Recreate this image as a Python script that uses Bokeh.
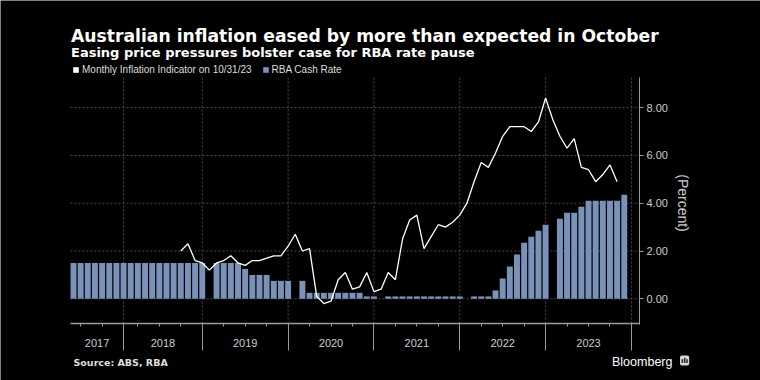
import math
import pandas as pd
from bokeh.plotting import figure
from bokeh.models import (Range1d, LinearAxis, FixedTicker, Label, Legend, LegendItem,
                          NumeralTickFormatter)
from bokeh.embed import file_html
from bokeh.resources import INLINE

# ---------------- data ----------------
def months(start, end):
    return [str(p) for p in pd.period_range(start, end, freq="M")]

# RBA cash rate (decision months; no January meetings)
rba_months = (months("2017-05", "2017-12") + months("2018-02", "2018-12") +
              months("2019-02", "2019-12") + months("2020-02", "2020-12") +
              months("2021-02", "2021-12") + months("2022-02", "2022-12") +
              months("2023-02", "2023-11"))
rba_2017 = [1.50, 1.50, 1.50, 1.50, 1.50, 1.50, 1.50, 1.50]
rba_2018 = [1.50, 1.50, 1.50, 1.50, 1.50, 1.50, 1.50, 1.50, 1.50, 1.50, 1.50]
rba_2019 = [1.50, 1.50, 1.50, 1.50, 1.25, 1.00, 1.00, 1.00, 0.75, 0.75, 0.75]
rba_2020 = [0.75, 0.25, 0.25, 0.25, 0.25, 0.25, 0.25, 0.25, 0.25, 0.10, 0.10]
rba_2021 = [0.10, 0.10, 0.10, 0.10, 0.10, 0.10, 0.10, 0.10, 0.10, 0.10, 0.10]
rba_2022 = [0.10, 0.10, 0.10, 0.35, 0.85, 1.35, 1.85, 2.35, 2.60, 2.85, 3.10]
rba_2023 = [3.35, 3.60, 3.60, 3.85, 4.10, 4.10, 4.10, 4.10, 4.10, 4.35]
rba_rate = rba_2017 + rba_2018 + rba_2019 + rba_2020 + rba_2021 + rba_2022 + rba_2023

# Monthly CPI indicator, annual % change
cpi_months = months("2018-09", "2023-10")
cpi_2018 = [2.0, 2.3, 1.6, 1.5]
cpi_2019 = [1.2, 1.5, 1.6, 1.8, 1.5, 1.4, 1.6, 1.6, 1.7, 1.8, 1.8, 2.2]
cpi_2020 = [2.7, 2.0, 2.1, 0.1, -0.2, -0.1, 0.8, 1.1, 0.4, 0.5, 1.1, 0.3]
cpi_2021 = [0.4, 1.1, 0.8, 2.5, 3.3, 3.5, 2.1, 2.6, 3.1, 3.0, 3.2, 3.5]
cpi_2022 = [4.0, 4.9, 5.7, 5.5, 6.1, 6.8, 7.2, 7.2, 7.2, 7.0, 7.4, 8.4]
cpi_2023 = [7.5, 6.8, 6.3, 6.7, 5.5, 5.4, 4.9, 5.2, 5.6, 4.9]
cpi_values = cpi_2018 + cpi_2019 + cpi_2020 + cpi_2021 + cpi_2022 + cpi_2023

year_labels = ["2017", "2018", "2019", "2020", "2021", "2022", "2023"]
y_ticks = [0, 2, 4, 6, 8]

title_text = "Australian inflation eased by more than expected in October"
subtitle_text = "Easing price pressures bolster case for RBA rate pause"
source_text = "Source: ABS, RBA"
legend_cpi = "Monthly Inflation Indicator on 10/31/23"
legend_rba = "RBA Cash Rate"

# ---------------- axis slots (union of observation dates) ----------------
axis_months = sorted(set(rba_months) | set(cpi_months) | {"2023-12"})
slot = {m: i for i, m in enumerate(axis_months)}
rba_x = [slot[m] for m in rba_months]
cpi_x = [slot[m] for m in cpi_months]
separators = [slot[m] for m in axis_months if m.endswith("-12")]
quarters = [slot[m] for m in axis_months if m[-2:] in ("03", "06", "09")]

# ---------------- layout (the frame covers the whole canvas) ----------------
W, H = 760, 380
PX_X, ORIGIN_X = 7.153, 73.0     # px per slot, page x of slot 0
PX_Y, ORIGIN_Y = 23.9, 298.3     # px per unit, page y of 0.00
def dx(px): return (px - ORIGIN_X) / PX_X
def dy(py): return (ORIGIN_Y - py) / PX_Y

X0, X1 = dx(70), dx(639)          # plot area left / right axis
Y_TOP, Y_AX = dy(77), dy(323)      # plot area top / bottom axis line

bounds = [X0] + separators
label_centers = [(bounds[i] + bounds[i + 1]) / 2 for i in range(len(year_labels))]

BAR = "#7a92ba"
GRID = "#4a4a4a"
AX = "#9a9a9a"
TXT = "#cccccc"
NAN = float("nan")

p = figure(width=W, height=H, x_range=Range1d(dx(0), dx(W)), y_range=Range1d(dy(H), dy(0)),
           output_backend="svg", toolbar_location=None,
           x_axis_location=None, y_axis_location=None,
           background_fill_color="black", border_fill_color="black",
           outline_line_color=None,
           min_border_left=0, min_border_right=0, min_border_top=0, min_border_bottom=0)
p.grid.visible = False

# dotted grid, limited to the plot area
p.segment(x0=separators, y0=[Y_AX] * len(separators), x1=separators, y1=[Y_TOP] * len(separators),
          line_color=GRID, line_dash="2 2", line_width=1)
p.segment(x0=[X0] * len(y_ticks), y0=y_ticks, x1=[X1] * len(y_ticks), y1=y_ticks,
          line_color=GRID, line_dash="2 2", line_width=1)

# data
r_bars = p.vbar(x=rba_x, top=rba_rate, bottom=0, width=0.83, fill_color=BAR, line_color=None)
p.line(cpi_x, cpi_values, line_color="white", line_width=1.3)

# bottom axis: line, quarter ticks, long year separators
xaxis_ticks = LinearAxis(fixed_location=Y_AX, bounds=(X0, X1),
                         ticker=FixedTicker(ticks=quarters, minor_ticks=separators),
                         major_label_overrides={q: "" for q in quarters},
                         axis_line_color=AX, axis_line_width=1.5,
                         major_tick_line_color=AX, major_tick_out=3, major_tick_in=0,
                         minor_tick_line_color=AX, minor_tick_out=27, minor_tick_in=0)
p.add_layout(xaxis_ticks, "below")
# bottom axis: year labels centred between separators
xaxis_labels = LinearAxis(fixed_location=Y_AX, bounds=(X0, X1),
                          ticker=FixedTicker(ticks=label_centers, minor_ticks=[]),
                          major_label_overrides={c: t for c, t in zip(label_centers, year_labels)},
                          axis_line_color=None, major_tick_line_color=None,
                          minor_tick_line_color=None,
                          major_tick_out=0, major_tick_in=0,
                          major_label_text_font="Liberation Sans",
                          major_label_text_font_size="11px",
                          major_label_text_color=TXT, major_label_standoff=15)
p.add_layout(xaxis_labels, "below")

# right value axis
yaxis = LinearAxis(fixed_location=X1, bounds=(Y_AX - 0.05, Y_TOP),
                   ticker=FixedTicker(ticks=y_ticks, minor_ticks=[]),
                   formatter=NumeralTickFormatter(format="0.00"),
                   axis_line_color=AX, axis_line_width=1,
                   major_tick_line_color=AX, major_tick_out=4, major_tick_in=0,
                   minor_tick_line_color=None,
                   major_label_text_font="Liberation Sans",
                   major_label_text_font_size="11px",
                   major_label_text_color=TXT, major_label_standoff=3)
p.add_layout(yaxis, "right")

# legend (square swatches) above the plot area; location = bottom-left corner
r_cpi = p.quad(left=[NAN], right=[NAN], top=[NAN], bottom=[NAN],
               fill_color="white", line_color=None)
legend = Legend(items=[LegendItem(label=legend_cpi, renderers=[r_cpi]),
                       LegendItem(label=legend_rba, renderers=[r_bars])],
                orientation="horizontal", location=(72, H - 75),
                glyph_width=7, glyph_height=7, label_standoff=3, spacing=10,
                padding=2, margin=0, label_height=10,
                label_text_font="Liberation Sans", label_text_font_size="10px",
                label_text_color="#dddddd",
                background_fill_alpha=0, border_line_color=None)
p.add_layout(legend, "center")

# texts (screen units; frame == canvas, y measured from the bottom)
def lab(text, x, y_page, **kw):
    p.add_layout(Label(x=x, y=H - y_page, x_units="screen", y_units="screen", text=text, **kw))

lab(title_text, 70.5, 35, text_font="DejaVu Sans", text_font_style="bold",
    text_font_size="17.2px", text_color="white", text_baseline="alphabetic")
lab(subtitle_text, 70.5, 51.7, text_font="DejaVu Sans", text_font_style="bold",
    text_font_size="13px", text_color="white", text_baseline="alphabetic")
lab(source_text, 73, 361.5, text_font="DejaVu Sans", text_font_style="bold",
    text_font_size="9.5px", text_color="#dddddd", text_baseline="alphabetic")
lab("Bloomberg", 611.5, 361.5, text_font="Liberation Sans", text_font_size="12.5px",
    text_color="white", text_baseline="alphabetic")
lab("ılı", 679.5, 360, text_font="DejaVu Sans", text_font_style="bold", text_font_size="7px",
    text_color="black", text_baseline="alphabetic",
    background_fill_color="#d8d8d8", padding=1, border_radius=2)
lab("(Percent)", 682, 202.5, text_font="Liberation Sans", text_font_size="14px",
    text_color=TXT, text_align="center", text_baseline="middle", angle=-math.pi / 2)

open("out.html", "w").write(file_html(p, INLINE))
